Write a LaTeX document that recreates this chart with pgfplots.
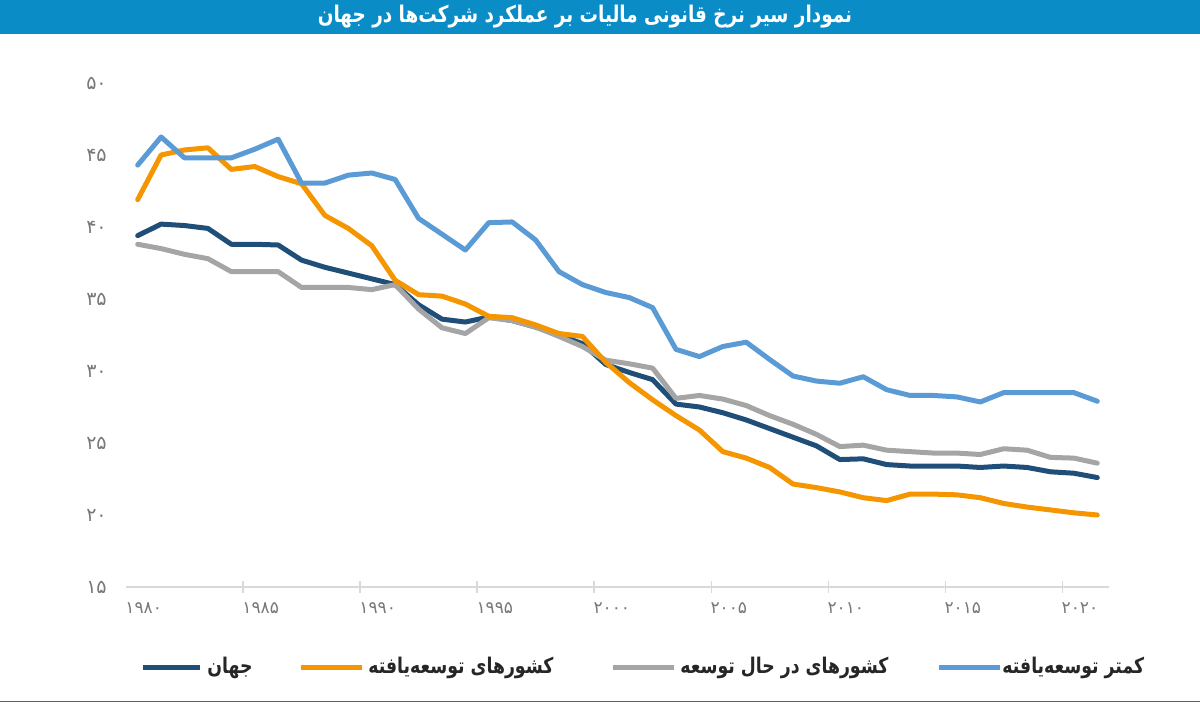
\documentclass[border=0pt]{standalone}
\usepackage{pgfplots}
\pgfplotsset{compat=1.18}
\usepackage{fontspec}
\setmainfont{DejaVu Sans}
\newfontfamily\fa[Script=Arabic]{DejaVu Sans}
\newfontfamily\fab[Script=Arabic,FakeStretch=0.8]{DejaVu Sans}
\TeXXeTstate=1
\definecolor{cworld}{RGB}{31,78,121}
\definecolor{cdev}{RGB}{245,150,0}
\definecolor{cdevg}{RGB}{165,165,165}
\definecolor{cleast}{RGB}{91,155,213}
\definecolor{barblue}{RGB}{10,140,198}
\definecolor{tickgray}{RGB}{120,120,120}

\pgfplotstableread{
year val
1980 39.4
1981 40.2
1982 40.1
1983 39.9
1984 38.8
1985 38.8
1986 38.75
1987 37.7
1988 37.2
1989 36.8
1990 36.4
1991 36.0
1992 34.6
1993 33.6
1994 33.4
1995 33.75
1996 33.5
1997 33.05
1998 32.5
1999 31.9
2000 30.45
2001 29.9
2002 29.4
2003 27.7
2004 27.5
2005 27.1
2006 26.6
2007 26.0
2008 25.4
2009 24.8
2010 23.85
2011 23.9
2012 23.5
2013 23.4
2014 23.4
2015 23.4
2016 23.3
2017 23.4
2018 23.3
2019 23.0
2020 22.9
2021 22.6
}\world

\pgfplotstableread{
year val
1980 41.9
1981 45.0
1982 45.35
1983 45.5
1984 44.0
1985 44.2
1986 43.5
1987 43.0
1988 40.8
1989 39.9
1990 38.7
1991 36.3
1992 35.3
1993 35.2
1994 34.65
1995 33.8
1996 33.7
1997 33.2
1998 32.6
1999 32.4
2000 30.6
2001 29.2
2002 28.0
2003 26.9
2004 25.9
2005 24.4
2006 23.95
2007 23.3
2008 22.15
2009 21.9
2010 21.6
2011 21.2
2012 21.0
2013 21.45
2014 21.45
2015 21.4
2016 21.2
2017 20.8
2018 20.55
2019 20.35
2020 20.15
2021 20.0
}\developed

\pgfplotstableread{
year val
1980 38.8
1981 38.5
1982 38.1
1983 37.8
1984 36.9
1985 36.9
1986 36.9
1987 35.8
1988 35.8
1989 35.8
1990 35.65
1991 36.0
1992 34.3
1993 33.0
1994 32.6
1995 33.7
1996 33.5
1997 33.05
1998 32.4
1999 31.7
2000 30.75
2001 30.5
2002 30.2
2003 28.1
2004 28.3
2005 28.05
2006 27.6
2007 26.9
2008 26.3
2009 25.6
2010 24.75
2011 24.85
2012 24.5
2013 24.4
2014 24.3
2015 24.3
2016 24.2
2017 24.6
2018 24.5
2019 24.0
2020 23.95
2021 23.6
}\developing

\pgfplotstableread{
year val
1980 44.3
1981 46.25
1982 44.8
1983 44.8
1984 44.8
1985 45.4
1986 46.1
1987 43.05
1988 43.05
1989 43.6
1990 43.75
1991 43.3
1992 40.6
1993 39.5
1994 38.4
1995 40.3
1996 40.35
1997 39.1
1998 36.9
1999 36.0
2000 35.45
2001 35.1
2002 34.4
2003 31.5
2004 31.0
2005 31.7
2006 32.0
2007 30.8
2008 29.65
2009 29.3
2010 29.15
2011 29.6
2012 28.7
2013 28.3
2014 28.3
2015 28.2
2016 27.85
2017 28.5
2018 28.5
2019 28.5
2020 28.5
2021 27.9
}\least

\begin{document}
\begin{tikzpicture}
\path[use as bounding box] (0,0) rectangle (600pt,352pt);
\fill[barblue] (0,335pt) rectangle (600pt,352pt);
\node[text=white, inner sep=0pt] at (292.5pt,343.5pt)
  {\fab\bfseries\fontsize{11.5}{13}\selectfont\beginR نمودار سیر نرخ قانونی مالیات بر عملکرد شرکت‌ها در جهان\endR};
\draw[gray!75!black, line width=0.8pt] (0,1.2pt) -- (600pt,1.2pt);

\begin{axis}[
  at={(63pt,58.5pt)}, anchor=south west,
  scale only axis, width=491.5pt, height=252pt,
  xmin=1979.5, xmax=2021.5, ymin=15, ymax=50,
  axis x line*=bottom, axis y line*=left,
  x axis line style={-, draw=gray!30, line width=0.8pt},
  y axis line style={-, draw=none},
  xtick={1980,1985,...,2020},
  xticklabels={۱۹۸۰,۱۹۸۵,۱۹۹۰,۱۹۹۵,۲۰۰۰,۲۰۰۵,۲۰۱۰,۲۰۱۵,۲۰۲۰},
  minor xtick={1984.5,1989.5,...,2019.5},
  ytick={15,20,...,50},
  yticklabels={۱۵,۲۰,۲۵,۳۰,۳۵,۴۰,۴۵,۵۰},
  major x tick style={draw=none},
  major y tick style={draw=none},
  minor x tick style={draw=gray!30, line width=0.6pt},
  minor tick length=6pt,
  tick align=center,
  xticklabel style={font=\fa\fontsize{8.5}{9}\selectfont, text=tickgray, xshift=3pt, yshift=-2pt},
  yticklabel style={font=\fa\fontsize{9.5}{10}\selectfont, text=tickgray, xshift=-4pt},
  clip=false,
  every axis plot/.append style={line width=2.5pt, line join=round, line cap=round},
]
\addplot[cworld] table[x=year,y=val] {\world};
\addplot[cdevg] table[x=year,y=val] {\developing};
\addplot[cdev] table[x=year,y=val] {\developed};
\addplot[cleast] table[x=year,y=val] {\least};
\end{axis}

% legend
\begin{scope}[every node/.style={anchor=west, inner sep=0pt, text=black!85}]
\draw[cworld, line width=2.5pt] (71.5pt,18pt) -- (100pt,18pt);
\node at (103.5pt,18pt) {\fab\bfseries\fontsize{10.8}{12}\selectfont\beginR جهان\endR};
\draw[cdev, line width=2.5pt] (150.5pt,18pt) -- (181pt,18pt);
\node at (184pt,18pt) {\fab\bfseries\fontsize{10.8}{12}\selectfont\beginR کشورهای توسعه‌یافته\endR};
\draw[cdevg, line width=2.5pt] (306.5pt,18pt) -- (337pt,18pt);
\node at (340pt,18pt) {\fab\bfseries\fontsize{10.8}{12}\selectfont\beginR کشورهای در حال توسعه\endR};
\draw[cleast, line width=2.5pt] (469.5pt,18pt) -- (500pt,18pt);
\node at (501pt,18pt) {\fab\bfseries\fontsize{10.8}{12}\selectfont\beginR کمتر توسعه‌یافته\endR};
\end{scope}
\end{tikzpicture}
\end{document}
